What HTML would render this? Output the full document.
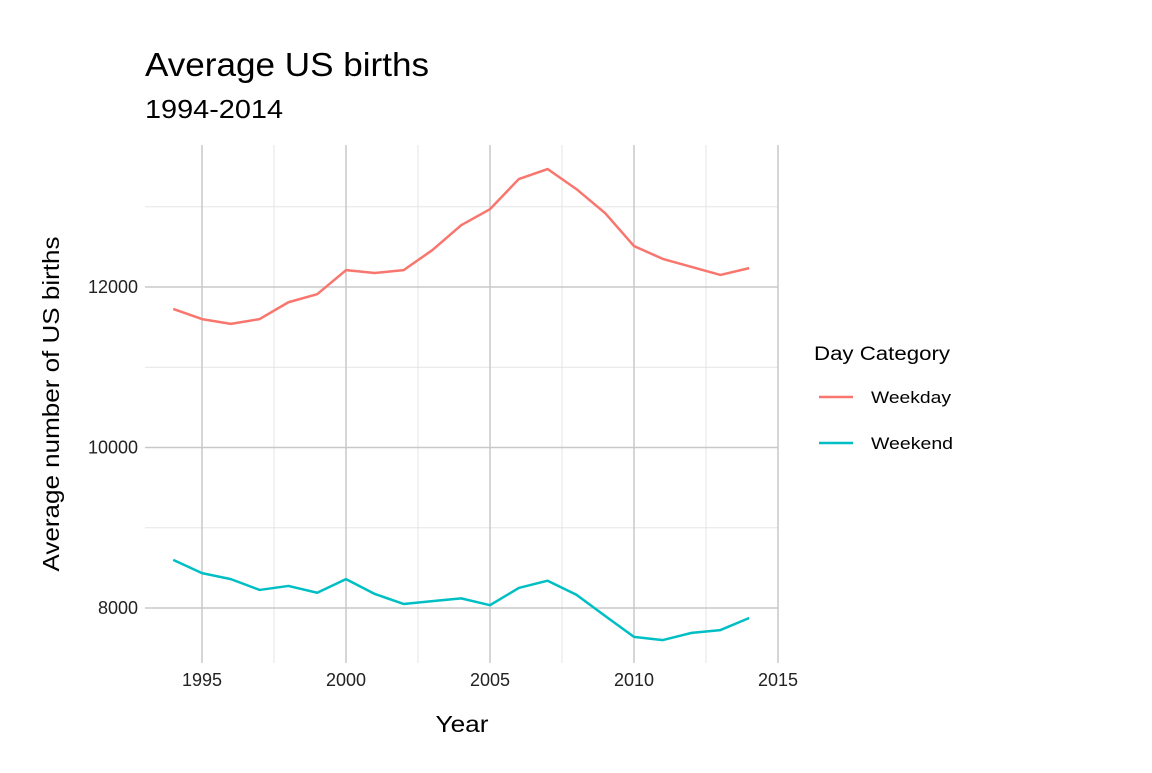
<!DOCTYPE html>
<html><head><meta charset="utf-8"><style>
body{margin:0;background:#fff;}
svg text{font-family:"Liberation Sans",sans-serif;}
</style></head><body>
<svg id="chart" width="1152" height="768">
<text x="145" y="76" font-size="33" textLength="284" lengthAdjust="spacingAndGlyphs" fill="#000">Average US births</text>
<text x="145" y="118" font-size="26" textLength="138" lengthAdjust="spacingAndGlyphs" fill="#000">1994-2014</text>
<g id="grid"></g>
<g id="series"></g>
<g id="axes"></g>
<text x="462" y="732" font-size="23" textLength="53" lengthAdjust="spacingAndGlyphs" text-anchor="middle">Year</text>
<text transform="translate(59,404) rotate(-90)" font-size="23" textLength="335" lengthAdjust="spacingAndGlyphs" text-anchor="middle">Average number of US births</text>
<text x="814" y="360" font-size="19" textLength="136" lengthAdjust="spacingAndGlyphs">Day Category</text>
<line x1="819" y1="397" x2="853" y2="397" stroke="#F8766D" stroke-width="2.5"/>
<text x="871" y="403" font-size="17" textLength="80" lengthAdjust="spacingAndGlyphs">Weekday</text>
<line x1="819" y1="443" x2="853" y2="443" stroke="#00BFC4" stroke-width="2.5"/>
<text x="871" y="449" font-size="17" textLength="82" lengthAdjust="spacingAndGlyphs">Weekend</text>
</svg>
<script>
const years=[1994,1995,1996,1997,1998,1999,2000,2001,2002,2003,2004,2005,2006,2007,2008,2009,2010,2011,2012,2013,2014];
const weekday=[11726,11600,11540,11600,11810,11910,12210,12175,12210,12460,12770,12970,13345,13470,13220,12920,12510,12350,12250,12150,12235];
const weekend=[8600,8435,8360,8225,8275,8190,8360,8175,8050,8085,8120,8035,8250,8340,8165,7900,7640,7600,7690,7725,7875];
const xTicks=[1995,2000,2005,2010,2015];
const xMinor=[1997.5,2002.5,2007.5,2012.5];
const yTicks=[8000,10000,12000];
const yMinor=[9000,11000,13000];
const X=v=>202+(v-1995)*28.8;
const Y=v=>287-(v-12000)*0.08025;
const L=145,R=778,T=145,B=663;
const ns="http://www.w3.org/2000/svg";
function mk(parent,tag,attrs){const e=document.createElementNS(ns,tag);for(const k in attrs)e.setAttribute(k,attrs[k]);document.getElementById(parent).appendChild(e);return e;}
xMinor.forEach(v=>{const e=mk('grid','line',{x1:X(v),x2:X(v),y1:T,y2:B,stroke:'#e5e5e5','stroke-width':1});

});
yMinor.forEach(v=>{const e=mk('grid','line',{x1:L,x2:R,y1:Y(v),y2:Y(v),stroke:'#e5e5e5','stroke-width':1});

});
xTicks.forEach(v=>{const e=mk('grid','line',{x1:X(v),x2:X(v),y1:T,y2:B,stroke:'#c8c8c8','stroke-width':1.5});


const t=mk('axes','text',{x:X(v),y:686,'font-size':18,'text-anchor':'middle',fill:'#222'});t.textContent=v;

});
yTicks.forEach(v=>{const e=mk('grid','line',{x1:L,x2:R,y1:Y(v),y2:Y(v),stroke:'#c8c8c8','stroke-width':1.5});


const t=mk('axes','text',{x:138,y:Y(v)+6,'font-size':18,'text-anchor':'end',fill:'#222'});t.textContent=v;

});
function line(vals,color,name){const d=vals.map((v,i)=>(i?'L':'M')+X(years[i])+','+Y(v)).join(' ');
const p=mk('series','path',{d:d,fill:'none',stroke:color,'stroke-width':2.5,'stroke-linejoin':'round'});

}
line(weekday,'#F8766D','weekday-line');
line(weekend,'#00BFC4','weekend-line');
</script>
</body></html>
